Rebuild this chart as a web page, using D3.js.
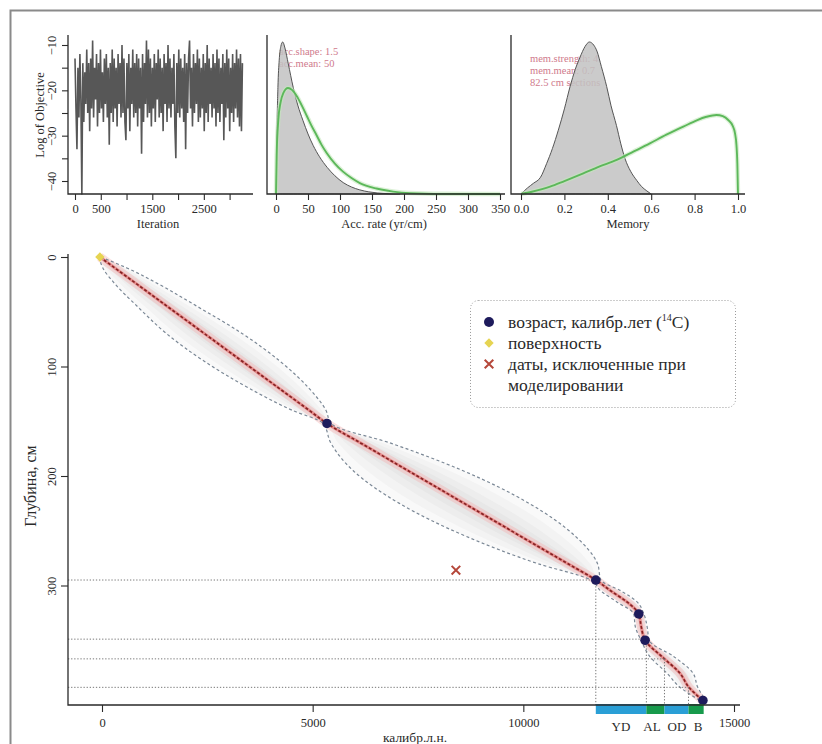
<!DOCTYPE html>
<html><head><meta charset="utf-8">
<script src="https://cdn.jsdelivr.net/npm/d3@7"></script>
<style>
body{margin:0;background:#fff}
svg{display:block}
svg text{font-family:"Liberation Serif","Times New Roman",serif}
</style></head><body>
<svg id="chart" width="822" height="744"></svg>
<script>
// ---------------- data ----------------
// MCMC trace (thinned: one stored value every traceStep iterations)
const traceStep = 19;
const logObjective = [
  -13,-24,-33,-15,-26,-12,-22,-43,-14,-27,-16,-23,-11,-25,-14,-29,-13,-24,-9,-26,
  -15,-22,-12,-28,-14,-25,-11,-24,-16,-27,-13,-23,-12,-26,-15,-32,-14,-25,-11,-27,
  -13,-24,-15,-28,-12,-23,-14,-26,-10,-25,-13,-27,-31,-14,-24,-12,-29,-15,-23,-11,
  -26,-14,-25,-12,-28,-13,-24,-15,-34,-12,-27,-14,-23,-9,-26,-11,-25,-13,-28,-15,
  -24,-12,-27,-14,-22,-11,-26,-13,-25,-15,-29,-12,-23,-14,-27,-10,-24,-13,-26,-15,
  -23,-12,-28,-35,-14,-25,-11,-26,-13,-24,-15,-27,-12,-33,-14,-25,-13,-9,-24,-15,
  -28,-12,-25,-14,-23,-11,-27,-13,-26,-15,-24,-12,-29,-14,-25,-10,-27,-13,-23,-15,
  -26,-12,-24,-14,-28,-11,-25,-13,-27,-15,-23,-12,-31,-14,-26,-11,-24,-13,-29,-15,
  -25,-12,-27,-14,-24,-11,-26,-13,-28,-12,-29,-14
];
const iterTicks = [0, 500, 1000, 1500, 2000, 2500, 3000];
const iterLabels = [0, 500, 1500, 2500];
const objTicks = [-10, -15, -20, -25, -30, -35, -40];
const objLabels = [-10, -20, -30, -40];

// accumulation rate: posterior (grey) and gamma prior (green), relative density
const accTicks = [0, 50, 100, 150, 200, 250, 300, 350];
const accPostRate = [0.5, 1.5, 3, 5, 7.5, 10.5, 14, 19, 27, 34, 42, 50, 58, 68, 80, 92, 105, 118, 131, 145, 158, 175, 194];
const accPostDens = [0, 0.40, 0.70, 0.88, 0.97, 1.00, 0.96, 0.86, 0.70, 0.585, 0.485, 0.395, 0.32, 0.245, 0.175, 0.12, 0.075, 0.046, 0.027, 0.014, 0.007, 0.002, 0];
const accPriorRate = [0, 1, 3.6, 7, 11.4, 18.75, 25, 32.3, 40, 48, 56, 63.6, 71, 79.2, 92, 104.7, 118, 131, 157, 183, 209, 260, 350];
const accPriorDens = [0, 0.25, 0.487, 0.60, 0.664, 0.697, 0.685, 0.645, 0.585, 0.515, 0.445, 0.385, 0.325, 0.27, 0.2, 0.147, 0.105, 0.072, 0.036, 0.016, 0.006, 0.001, 0];

// memory: posterior (grey) and beta prior (green)
const memTicks = [0, 0.2, 0.4, 0.6, 0.8, 1.0];
const memPostVal = [0.0, 0.03, 0.057, 0.09, 0.118, 0.145, 0.172, 0.2, 0.226, 0.25, 0.272, 0.295, 0.315, 0.335, 0.35, 0.37, 0.395, 0.415, 0.44, 0.46, 0.48, 0.505, 0.533, 0.555, 0.58, 0.6];
const memPostDens = [0, 0.04, 0.07, 0.11, 0.2, 0.3, 0.42, 0.56, 0.706, 0.82, 0.9, 0.97, 1.0, 0.98, 0.94, 0.84, 0.706, 0.58, 0.45, 0.33, 0.23, 0.15, 0.09, 0.05, 0.02, 0];
const memPriorVal = [0, 0.05, 0.134, 0.2, 0.287, 0.36, 0.441, 0.52, 0.594, 0.67, 0.748, 0.81, 0.855, 0.901, 0.93, 0.955, 0.975, 0.986, 0.993, 0.997, 1.0];
const memPriorDens = [0, 0.015, 0.048, 0.085, 0.136, 0.18, 0.224, 0.28, 0.333, 0.39, 0.443, 0.485, 0.508, 0.52, 0.512, 0.487, 0.45, 0.40, 0.32, 0.2, 0];

const accSettings = ["acc.shape: 1.5", "acc.mean: 50"];
const memSettings = ["mem.strength: 4", "mem.mean: 0.7", "82.5 cm sections"];

// age-depth model (cal BP vs depth, cm)
const modelDepth  = [0, 10, 25, 45, 70, 95, 120, 140, 152, 170, 195, 225, 255, 280, 295, 305, 315, 326, 338, 350, 365, 380, 393, 405];
const modelMedian = [-50, 305, 837, 1545, 2432, 3319, 4205, 4915, 5340, 6143, 7258, 8597, 9935, 11050, 11720, 12080, 12460, 12740, 12800, 12890, 13290, 13716, 13930, 14262];
const modelMin    = [-70, 20, 317, 835, 1532, 2419, 3495, 4515, 5245, 5433, 5958, 7057, 8635, 10340, 11600, 11840, 12220, 12620, 12660, 12795, 13005, 13406, 13720, 14192];
const modelMax    = [-30, 590, 1357, 2255, 3332, 4219, 4915, 5315, 5435, 6853, 8558, 10137, 11235, 11760, 11840, 12320, 12700, 12860, 12940, 12985, 13575, 14026, 14140, 14332];

// radiocarbon dates (calibrated), surface and rejected date
const dateAge   = [5340, 11720, 12740, 12890, 14262];
const dateDepth = [152, 295, 326, 350, 405];
const surfaceAge = [-50], surfaceDepth = [0];
const rejectedAge = [8400], rejectedDepth = [286];

// Late-glacial zones along the age axis
const zoneNames = ["YD", "AL", "OD", "B"];
const zoneStart = [11720, 12920, 13350, 13920];
const zoneEnd   = [12920, 13350, 13920, 14280];
const zoneDepth = [295, 349, 367, 393];

const ageTicks = [0, 5000, 10000, 15000];
const depthTicks = [0, 100, 200, 300];

const legendItems = ["возраст, калибр.лет (", "поверхность", "даты, исключенные при", "моделировании"];

// ---------------- drawing ----------------
const svg = d3.select("#chart");
const ink = "#2a2a2a";

function styleAxis(g, size) {
  g.attr("font-family", null);
  g.select(".domain").remove();
  g.selectAll(".tick line").attr("stroke", ink).attr("stroke-width", 1.1);
  g.selectAll(".tick text").attr("fill", ink).attr("font-size", size);
}
function rotateLeftLabels(g, offset) {
  g.selectAll(".tick text")
    .attr("x", null).attr("dy", "0.35em")
    .attr("text-anchor", "middle")
    .attr("transform", `translate(${-offset},0) rotate(-90)`);
}
function axisLines(x0, yTop, yBot, xRight) {
  svg.append("path")
    .attr("d", `M${x0},${yTop}V${yBot}H${xRight}`)
    .attr("fill", "none").attr("stroke", ink).attr("stroke-width", 1.3);
}
const diamond = d3.symbol(d3.symbolSquare, 44)();

// outer frame
svg.append("path").attr("d", "M10.5,744V10.5H822")
  .attr("fill", "none").attr("stroke", "#8a8a8a").attr("stroke-width", 2);

// ---- panel 1: log objective trace ----
const p1x = d3.scaleLinear().domain([0, 3000]).range([75, 229.6]);
const p1y = d3.scaleLinear().domain([-10, -40]).range([45, 181]);
svg.append("path").datum(logObjective)
  .attr("d", d3.line().x((d, i) => p1x(i * traceStep)).y(d => p1y(d)))
  .attr("fill", "none").attr("stroke", "#575757").attr("stroke-width", 1.6);
axisLines(68, 35, 194, 253);
svg.append("g").attr("transform", "translate(0,194)")
  .call(d3.axisBottom(p1x).tickValues(iterTicks)
    .tickFormat(d => iterLabels.includes(d) ? d : "").tickSize(6).tickPadding(4))
  .call(g => styleAxis(g, 12.5));
svg.append("g").attr("transform", "translate(68,0)")
  .call(d3.axisLeft(p1y).tickValues(objTicks)
    .tickFormat(d => objLabels.includes(d) ? d3.format("d")(d) : "").tickSize(6))
  .call(g => styleAxis(g, 12.5))
  .call(g => rotateLeftLabels(g, 16));
svg.append("text").attr("x", 158).attr("y", 228).attr("text-anchor", "middle")
  .attr("font-size", 12.5).attr("fill", ink).text("Iteration");
svg.append("text").attr("transform", "translate(44,115) rotate(-90)").attr("text-anchor", "middle")
  .attr("font-size", 12.5).attr("fill", ink).text("Log of Objective");

// ---- panel 2: accumulation rate ----
const p2x = d3.scaleLinear().domain([0, 350]).range([276, 500]);
const densY = d3.scaleLinear().domain([0, 1.046]).range([194, 35]);
svg.selectAll(".accset").data(accSettings).join("text")
  .attr("x", 279).attr("y", (d, i) => 55 + i * 12)
  .attr("font-size", 10.5).attr("fill", "#cf7a8c").text(d => d);
svg.append("path").datum(d3.zip(accPostRate, accPostDens))
  .attr("d", d3.area().x(d => p2x(d[0])).y0(densY(0)).y1(d => densY(d[1])).curve(d3.curveMonotoneX))
  .attr("fill", "#c2c2c2").attr("fill-opacity", 0.85).attr("stroke", "#555").attr("stroke-width", 1);
svg.append("path").datum(d3.zip(accPriorRate, accPriorDens))
  .attr("d", d3.line().x(d => p2x(d[0])).y(d => densY(d[1])).curve(d3.curveMonotoneX))
  .attr("fill", "none").attr("stroke", "#c4e8bd").attr("stroke-width", 4.5).attr("stroke-opacity", 0.6);
svg.append("path").datum(d3.zip(accPriorRate, accPriorDens))
  .attr("d", d3.line().x(d => p2x(d[0])).y(d => densY(d[1])).curve(d3.curveMonotoneX))
  .attr("fill", "none").attr("stroke", "#5cb85a").attr("stroke-width", 1.9);
axisLines(267, 35, 194, 505);
svg.append("g").attr("transform", "translate(0,194)")
  .call(d3.axisBottom(p2x).tickValues(accTicks).tickSize(6).tickPadding(4))
  .call(g => styleAxis(g, 12.5));
svg.append("text").attr("x", 384).attr("y", 228).attr("text-anchor", "middle")
  .attr("font-size", 12.5).attr("fill", ink).text("Acc. rate (yr/cm)");

// ---- panel 3: memory ----
const p3x = d3.scaleLinear().domain([0, 1]).range([521, 738]);
svg.selectAll(".memset").data(memSettings).join("text")
  .attr("x", 530).attr("y", (d, i) => 62 + i * 12)
  .attr("font-size", 10.5).attr("fill", "#cf7a8c").text(d => d);
svg.append("path").datum(d3.zip(memPostVal, memPostDens))
  .attr("d", d3.area().x(d => p3x(d[0])).y0(densY(0)).y1(d => densY(d[1])).curve(d3.curveMonotoneX))
  .attr("fill", "#c2c2c2").attr("fill-opacity", 0.85).attr("stroke", "#555").attr("stroke-width", 1);
svg.append("path").datum(d3.zip(memPriorVal, memPriorDens))
  .attr("d", d3.line().x(d => p3x(d[0])).y(d => densY(d[1])).curve(d3.curveMonotoneX))
  .attr("fill", "none").attr("stroke", "#c4e8bd").attr("stroke-width", 4.5).attr("stroke-opacity", 0.6);
svg.append("path").datum(d3.zip(memPriorVal, memPriorDens))
  .attr("d", d3.line().x(d => p3x(d[0])).y(d => densY(d[1])).curve(d3.curveMonotoneX))
  .attr("fill", "none").attr("stroke", "#5cb85a").attr("stroke-width", 1.9);
axisLines(511, 35, 194, 745);
svg.append("g").attr("transform", "translate(0,194)")
  .call(d3.axisBottom(p3x).tickValues(memTicks).tickFormat(d3.format(".1f")).tickSize(6).tickPadding(4))
  .call(g => styleAxis(g, 12.5));
svg.append("text").attr("x", 628).attr("y", 228).attr("text-anchor", "middle")
  .attr("font-size", 12.5).attr("fill", ink).text("Memory");

// ---- main panel: age-depth model ----
const x = d3.scaleLinear().domain([0, 15000]).range([102, 734]);
const y = d3.scaleLinear().domain([0, 300]).range([257, 585.5]);
const axisY = 705, axisX = 68;
const model = modelDepth.map((d, i) => ({ d, med: modelMedian[i], lo: modelMin[i], hi: modelMax[i] }));

// grey haze of the age ensemble, darker towards the median
[1, 0.75, 0.5, 0.3].forEach(f => {
  svg.append("path").datum(model)
    .attr("d", d3.area().curve(d3.curveMonotoneY)
      .y(p => y(p.d))
      .x0(p => x(p.med - f * (p.med - p.lo)))
      .x1(p => x(p.med + f * (p.hi - p.med))))
    .attr("fill", "#8c8c8c").attr("fill-opacity", 0.05);
});
// red core of the most likely ages
svg.append("path").datum(model)
  .attr("d", d3.line().curve(d3.curveMonotoneY).x(p => x(p.med)).y(p => y(p.d)))
  .attr("fill", "none").attr("stroke", "#f3b0b0").attr("stroke-width", 9).attr("stroke-opacity", 0.4);
svg.append("path").datum(model)
  .attr("d", d3.line().curve(d3.curveMonotoneY).x(p => x(p.med)).y(p => y(p.d)))
  .attr("fill", "none").attr("stroke", "#e46a6a").attr("stroke-width", 3).attr("stroke-opacity", 0.65);

// 95% range boundaries
["lo", "hi"].forEach(k => {
  svg.append("path").datum(model)
    .attr("d", d3.line().curve(d3.curveMonotoneY).x(p => x(p[k])).y(p => y(p.d)))
    .attr("fill", "none").attr("stroke", "#7b8896").attr("stroke-width", 1.2)
    .attr("stroke-dasharray", "3,2.5");
});
// weighted mean ages
svg.append("path").datum(model)
  .attr("d", d3.line().curve(d3.curveMonotoneY).x(p => x(p.med)).y(p => y(p.d)))
  .attr("fill", "none").attr("stroke", "#862222").attr("stroke-width", 1.7)
  .attr("stroke-dasharray", "3,2");

// zone boundary guides
zoneDepth.forEach((dep, i) => {
  svg.append("line").attr("x1", axisX).attr("x2", x(zoneStart[i]))
    .attr("y1", y(dep)).attr("y2", y(dep))
    .attr("stroke", "#777").attr("stroke-width", 1).attr("stroke-dasharray", "1.3,1.8");
  svg.append("line").attr("x1", x(zoneStart[i])).attr("x2", x(zoneStart[i]))
    .attr("y1", y(dep)).attr("y2", axisY)
    .attr("stroke", "#777").attr("stroke-width", 1).attr("stroke-dasharray", "1.3,1.8");
});

// rejected date
svg.selectAll(".rej").data(d3.zip(rejectedAge, rejectedDepth)).join("path")
  .attr("transform", d => `translate(${x(d[0])},${y(d[1])})`)
  .attr("d", d3.symbol(d3.symbolTimes, 50)())
  .attr("fill", "none").attr("stroke", "#b5473a").attr("stroke-width", 2);

// dated levels
svg.selectAll(".date").data(d3.zip(dateAge, dateDepth)).join("circle")
  .attr("cx", d => x(d[0])).attr("cy", d => y(d[1])).attr("r", 4.8)
  .attr("fill", "#1e1b5c");
// surface
svg.selectAll(".surf").data(d3.zip(surfaceAge, surfaceDepth)).join("path")
  .attr("transform", d => `translate(${x(d[0])},${y(d[1])}) rotate(45)`)
  .attr("d", diamond)
  .attr("fill", "#e6d452");

// zone bar
const zoneColor = ["#2a9fd6", "#179a4c", "#2a9fd6", "#179a4c"];
svg.selectAll(".zone").data(zoneNames).join("rect")
  .attr("x", (d, i) => x(zoneStart[i])).attr("width", (d, i) => x(zoneEnd[i]) - x(zoneStart[i]))
  .attr("y", axisY - 1).attr("height", 10).attr("fill", (d, i) => zoneColor[i]);
const zoneLabelX = [621, 652, 677, 698];
svg.selectAll(".zlab").data(zoneNames).join("text")
  .attr("x", (d, i) => zoneLabelX[i]).attr("y", 731).attr("text-anchor", "middle")
  .attr("font-size", 13).attr("fill", ink).text(d => d);

// main axes
axisLines(axisX, 254, axisY, 740);
svg.append("g").attr("transform", `translate(0,${axisY})`)
  .call(d3.axisBottom(x).tickValues(ageTicks).tickFormat(d3.format("d")).tickSize(7).tickPadding(6))
  .call(g => styleAxis(g, 12.5));
svg.append("g").attr("transform", `translate(${axisX},0)`)
  .call(d3.axisLeft(y).tickValues(depthTicks).tickSize(7))
  .call(g => styleAxis(g, 12.5))
  .call(g => rotateLeftLabels(g, 16));
svg.append("text").attr("x", 415).attr("y", 742).attr("text-anchor", "middle")
  .attr("font-size", 13.5).attr("fill", ink).text("калибр.л.н.");
svg.append("text").attr("transform", "translate(36,486) rotate(-90)").attr("text-anchor", "middle")
  .attr("font-size", 16).attr("fill", ink).text("Глубина, см");

// legend
const lg = svg.append("g").attr("transform", "translate(470,300)");
lg.append("rect").attr("x", 0.5).attr("y", 0.5).attr("width", 265).attr("height", 107).attr("rx", 8)
  .attr("fill", "#fff").attr("stroke", "#9a9a9a").attr("stroke-width", 1).attr("stroke-dasharray", "1,2");
const lgY = [28, 49, 70, 91];
lg.append("circle").attr("cx", 19).attr("cy", lgY[0] - 6).attr("r", 5).attr("fill", "#1e1b5c");
lg.append("path").attr("transform", `translate(19,${lgY[1] - 6}) rotate(45)`)
  .attr("d", diamond).attr("fill", "#e6d452");
lg.append("path").attr("transform", `translate(19,${lgY[2] - 6})`)
  .attr("d", d3.symbol(d3.symbolTimes, 50)()).attr("fill", "none").attr("stroke", "#b5473a").attr("stroke-width", 2);
legendItems.forEach((t, i) => {
  const tx = lg.append("text").attr("x", 38).attr("y", lgY[i]).attr("font-size", 17.5).attr("fill", ink).text(t);
  if (i === 0) {
    tx.append("tspan").attr("font-size", 10).attr("dy", -7).text("14");
    tx.append("tspan").attr("dy", 7).text("C)");
  }
});
</script>
</body></html>
